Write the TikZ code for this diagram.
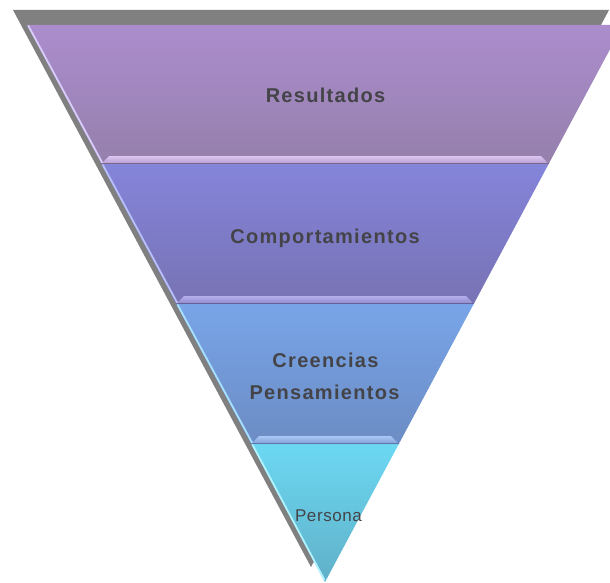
\documentclass[tikz,border=0pt]{standalone}
\usepackage{fontspec}
\setmainfont{Liberation Sans}
\newfontfamily\boldlabel[LetterSpace=6.5]{Liberation Sans}
\newfontfamily\plainlabel[LetterSpace=3.5]{Liberation Sans}
\definecolor{shadowgray}{HTML}{808080}
\definecolor{txtgray}{HTML}{444448}
\definecolor{bAtop}{HTML}{AB8DCD}
\definecolor{bAbot}{HTML}{9580AC}
\definecolor{bBtop}{HTML}{8484DA}
\definecolor{bBbot}{HTML}{7873B4}
\definecolor{bCtop}{HTML}{78A5E8}
\definecolor{bCbot}{HTML}{6C8CC4}
\definecolor{bDtop}{HTML}{6CD8F2}
\definecolor{bDbot}{HTML}{60B0C8}
\definecolor{sAtop}{HTML}{DCC6F0}
\definecolor{sAbot}{HTML}{B49BD2}
\definecolor{sBtop}{HTML}{B4AEEC}
\definecolor{sBbot}{HTML}{8E88CC}
\definecolor{sCtop}{HTML}{AAC8F4}
\definecolor{sCbot}{HTML}{809FD6}
\definecolor{hA}{HTML}{D8CCFA}
\definecolor{hB}{HTML}{B8C0FA}
\definecolor{hC}{HTML}{A8E0FF}
\definecolor{hD}{HTML}{B0F2FF}
\begin{document}
\begin{tikzpicture}[x=1pt,y=-1pt,
  lbl/.style={font=\boldlabel\bfseries\fontsize{20}{24}\selectfont, text=txtgray, inner sep=0pt, anchor=base},
  smalllbl/.style={font=\plainlabel\fontsize{17}{20}\selectfont, text=txtgray, inner sep=0pt, anchor=base},
  edgehl/.style={line width=1.8pt, line cap=butt}]
\useasboundingbox (0,0) rectangle (610,583);
\clip (0,0) rectangle (610,583);
% shadow
\fill[shadowgray] (13,10) -- (609,10) -- (311,567) -- cycle;
% bands
\shade[top color=bAtop, bottom color=bAbot] (27,25) -- (623,25) -- (548.6,164) -- (101.4,164) -- cycle;
\shade[top color=bBtop, bottom color=bBbot] (101.4,164) -- (548.6,164) -- (473.7,304) -- (176.3,304) -- cycle;
\shade[top color=bCtop, bottom color=bCbot] (176.3,304) -- (473.7,304) -- (398.8,444) -- (251.2,444) -- cycle;
\shade[top color=bDtop, bottom color=bDbot] (251.2,444) -- (398.8,444) -- (325,582) -- cycle;
% bevel strips
\shade[top color=sAtop, bottom color=sAbot] (101.4,164) -- (109,156) -- (541,156) -- (548.6,164) -- cycle;
\shade[top color=sBtop, bottom color=sBbot] (176.3,304) -- (184,296) -- (466,296) -- (473.7,304) -- cycle;
\shade[top color=sCtop, bottom color=sCbot] (251.2,444) -- (259,436) -- (391,436) -- (398.8,444) -- cycle;
\draw[bAbot!80!black, line width=0.8pt] (101.4,163.6) -- (548.6,163.6);
\draw[bBbot!85!black, line width=0.8pt] (176.3,303.6) -- (473.7,303.6);
\draw[bCbot!85!black, line width=0.8pt] (251.2,443.6) -- (398.8,443.6);
% left edge highlights
\draw[edgehl, hA] (28.2,25.5) -- (102.4,163);
\draw[edgehl, hB] (102.6,164.5) -- (177.3,303);
\draw[edgehl, hC] (177.5,304.5) -- (252.2,443);
\draw[edgehl, hD] (252.4,444.5) -- (324.5,580);
% labels
\node[lbl] (res) at (325.5,103) {Resultados};
\node[lbl] (comp) at (325,243) {Comportamientos};
\node[lbl] (cree) at (325.5,367) {Creencias};
\node[lbl] (pens) at (324.5,399) {Pensamientos};
\node[smalllbl] (pers) at (328.5,521) {Persona};
\end{tikzpicture}
\end{document}
